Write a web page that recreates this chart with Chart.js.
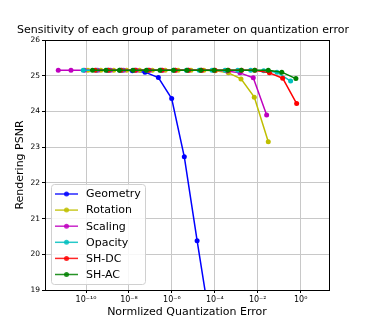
<!DOCTYPE html>
<html>
<head>
<meta charset="utf-8">
<script src="https://cdn.jsdelivr.net/npm/chart.js@4.4.0/dist/chart.umd.min.js"></script>
<style>
    body { margin: 0; background: #fff; }
    #wrap { width: 366px; height: 326px; position: relative; }
</style>
</head>
<body>
<div id="wrap"><canvas id="psnrChart"></canvas></div>
<script>
const seriesNames = ['Geometry', 'Rotation', 'Scaling', 'Opacity', 'SH-DC', 'SH-AC'];
const seriesColors = ['#0000ff', '#bfbf00', '#bf00bf', '#00bfbf', '#ff0000', '#008000'];

const geometryErr = [1.0e-9, 3.8e-9, 1.45e-8, 5.6e-8, 2.35e-7, 9.8e-7, 3.8e-6, 1.5e-5, 6.2e-5];
const geometryPsnr = [25.15, 25.15, 25.14, 25.1, 24.95, 24.36, 22.73, 20.38, 18.05];

const rotationErr = [1.23e-10, 4.9e-10, 1.95e-9, 7.8e-9, 3.1e-8, 1.23e-7, 4.9e-7, 1.95e-6, 7.8e-6, 3.1e-5, 1.07e-4, 4.3e-4, 1.66e-3, 6.9e-3, 3.1e-2];
const rotationPsnr = [25.15, 25.15, 25.15, 25.15, 25.15, 25.15, 25.15, 25.15, 25.15, 25.15, 25.14, 25.08, 24.91, 24.4, 23.15];

const scalingErr = [5.1e-12, 2.0e-11, 8.5e-11, 3.5e-10, 1.38e-9, 5.6e-9, 2.2e-8, 9.1e-8, 3.6e-7, 1.45e-6, 5.9e-6, 2.35e-5, 9.3e-5, 3.7e-4, 1.48e-3, 6.2e-3, 2.6e-2];
const scalingPsnr = [25.15, 25.15, 25.15, 25.15, 25.15, 25.15, 25.15, 25.15, 25.15, 25.15, 25.15, 25.15, 25.15, 25.13, 25.08, 24.94, 23.9];

const opacityErr = [7.4e-11, 3.0e-10, 1.17e-9, 4.7e-9, 1.86e-8, 7.4e-8, 3.0e-7, 1.17e-6, 4.7e-6, 1.86e-5, 7.4e-5, 3.0e-4, 1.17e-3, 4.7e-3, 1.9e-2, 7.9e-2, 3.4e-1];
const opacityPsnr = [25.15, 25.15, 25.15, 25.15, 25.15, 25.15, 25.15, 25.15, 25.15, 25.15, 25.15, 25.15, 25.15, 25.15, 25.14, 25.1, 24.85];

const shDcErr = [2.7e-10, 1.12e-9, 4.3e-9, 1.95e-8, 8.1e-8, 3.4e-7, 1.41e-6, 5.9e-6, 2.45e-5, 1.02e-4, 4.3e-4, 1.78e-3, 7.4e-3, 3.5e-2, 1.45e-1, 6.5e-1];
const shDcPsnr = [25.15, 25.15, 25.15, 25.15, 25.15, 25.15, 25.15, 25.15, 25.15, 25.15, 25.15, 25.15, 25.15, 25.08, 24.93, 24.22];

const shAcErr = [2.0e-10, 8.5e-10, 3.6e-9, 1.55e-8, 6.5e-8, 2.8e-7, 1.2e-6, 5.1e-6, 2.2e-5, 9.3e-5, 4.0e-4, 1.7e-3, 7.2e-3, 3.1e-2, 1.32e-1, 6.0e-1];
const shAcPsnr = [25.15, 25.15, 25.15, 25.15, 25.15, 25.15, 25.15, 25.15, 25.15, 25.15, 25.15, 25.15, 25.15, 25.15, 25.1, 24.92];

const xTickValues = [1e-10, 1e-8, 1e-6, 1e-4, 1e-2, 1e0];
const xTickLabels = ['10\u207B\u00B9\u2070', '10\u207B\u2078', '10\u207B\u2076', '10\u207B\u2074', '10\u207B\u00B2', '10\u2070'];

const chartTitle = 'Sensitivity of each group of parameter on quantization error';

const errs = [geometryErr, rotationErr, scalingErr, opacityErr, shDcErr, shAcErr];
const psnrs = [geometryPsnr, rotationPsnr, scalingPsnr, opacityPsnr, shDcPsnr, shAcPsnr];

Chart.defaults.font.family = "'DejaVu Sans', sans-serif";
Chart.defaults.color = '#000';

// title, top + right spines and the legend box inside the axes
const framePlugin = {
    id: 'frame',
    afterDatasetsDraw(chart) {
        const { ctx, chartArea: a } = chart;
        ctx.save();
        ctx.strokeStyle = '#000';
        ctx.lineWidth = 1;
        ctx.strokeRect(Math.round(a.left) + 0.5, Math.round(a.top) + 0.5,
            Math.round(a.right - a.left), Math.round(a.bottom - a.top));

        ctx.fillStyle = '#000';
        ctx.font = "11px 'DejaVu Sans'";
        ctx.textAlign = 'center';
        ctx.textBaseline = 'alphabetic';
        ctx.fillText(chartTitle, 183, 33);
        ctx.textAlign = 'left';

        const bx = 51, by = 184, bw = 94, bh = 100;
        ctx.beginPath();
        ctx.roundRect(bx + 0.5, by + 0.5, bw, bh, 3);
        ctx.fillStyle = 'rgba(255,255,255,0.85)';
        ctx.fill();
        ctx.strokeStyle = '#d0d0d0';
        ctx.stroke();

        ctx.textBaseline = 'middle';
        seriesNames.forEach((name, i) => {
            const y = 194 + i * 16.1;
            ctx.strokeStyle = seriesColors[i];
            ctx.globalAlpha = 0.85;
            ctx.lineWidth = 1.5;
            ctx.beginPath();
            ctx.moveTo(55, y);
            ctx.lineTo(78, y);
            ctx.stroke();
            ctx.fillStyle = seriesColors[i];
            ctx.beginPath();
            ctx.arc(66.5, y, 2.5, 0, Math.PI * 2);
            ctx.fill();
            ctx.globalAlpha = 1;
            ctx.fillStyle = '#000';
            ctx.fillText(name, 86, y + 0.5);
        });
        ctx.restore();
    }
};

const ctx = document.getElementById('psnrChart');

// eslint-disable-next-line no-unused-vars
const psnrChart = new Chart(ctx, {
    type: 'line',
    data: {
        datasets: seriesNames.map((name, i) => ({
            label: name,
            data: errs[i].map((x, j) => ({ x, y: psnrs[i][j] })),
            borderColor: seriesColors[i],
            backgroundColor: seriesColors[i],
            borderWidth: 1.5,
            pointRadius: 2.5,
            pointHoverRadius: 2.5,
            pointBorderWidth: 0,
            order: seriesNames.length - i,
            tension: 0
        }))
    },
    options: {
        responsive: true,
        maintainAspectRatio: false,
        animation: false,
        layout: {
            padding: { left: 6, right: 37, top: 40, bottom: 0 }
        },
        plugins: {
            legend: { display: false },
            tooltip: { enabled: false },
            title: { display: false }
        },
        scales: {
            x: {
                type: 'logarithmic',
                min: 1.23e-12,
                max: 20.9,
                afterFit: s => { s.height = 36; },
                afterBuildTicks: s => { s.ticks = xTickValues.map(v => ({ value: v })); },
                ticks: {
                    autoSkip: false,
                    maxRotation: 0,
                    padding: 2,
                    font: { size: 8 },
                    callback: (v, i) => xTickLabels[i]
                },
                grid: { color: '#c8c8c8', tickColor: '#000', tickLength: 3 },
                border: { color: '#000' },
                title: {
                    display: true,
                    text: 'Normlized Quantization Error',
                    font: { size: 11 },
                    padding: { top: 0, bottom: 7 }
                }
            },
            y: {
                min: 19,
                max: 26,
                afterFit: s => { s.width = 39; },
                ticks: { stepSize: 1, padding: 2, font: { size: 7.5 } },
                grid: { color: '#c8c8c8', tickColor: '#000', tickLength: 3 },
                border: { color: '#000' },
                title: {
                    display: true,
                    text: 'Rendering PSNR',
                    font: { size: 11 },
                    padding: { top: 8, bottom: 0 }
                }
            }
        }
    },
    plugins: [framePlugin]
});
</script>
</body>
</html>
